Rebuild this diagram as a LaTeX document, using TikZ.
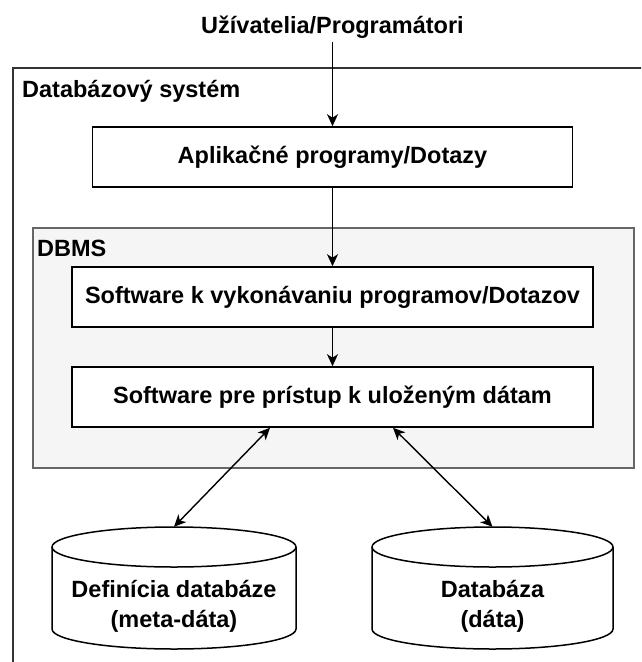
\documentclass[tikz,border=0pt]{standalone}
\usepackage{fontspec}
\setmainfont{Liberation Sans}
\usetikzlibrary{arrows.meta,calc}
\definecolor{dbfill}{HTML}{F5F5F5}
\definecolor{dbline}{HTML}{666666}
\definecolor{sysline}{HTML}{333333}
\begin{document}
\begin{tikzpicture}[x=1pt,y=-1pt,
  txt/.style={font=\fontsize{23.5}{30}\selectfont\bfseries, inner sep=0pt},
  box/.style={draw=black, line width=1.6pt, fill=white, minimum height=60pt, inner sep=0pt, txt},
  tip/.tip={Stealth[length=12pt,width=11pt,inset=3.5pt]},
  arr/.style={line width=1.6pt, -tip},
  darr/.style={line width=1.4pt, tip-tip},
  cyl/.style={draw=black, line width=1.5pt, fill=white}]
\useasboundingbox (0,0) rectangle (641,662);
\clip (0,0) rectangle (641,662);
\fill[white] (0,0) rectangle (641,662);
% outer system box
\node[draw=sysline, line width=1.8pt, minimum width=660, minimum height=620, anchor=north west, inner sep=0pt] (sys) at (12,67) {};
\node[txt, anchor=base west] (systitle) at (22,97) {Databázový systém};
\node[txt, anchor=base] (users) at (332.5,33) {Užívatelia/Programátori};
\node[box, minimum width=480] (app) at (332.5,157) {Aplikačné programy/Dotazy};
% DBMS
\node[draw=dbline, fill=dbfill, line width=1.5pt, minimum width=601, minimum height=240, anchor=north west, inner sep=0pt] (dbms) at (32,227) {};
\node[txt, anchor=base west] (dbmslabel) at (37,256.5) {DBMS};
\node[box, minimum width=521] (exec) at (332.5,297) {Software k vykonávaniu programov/Dotazov};
\node[box, minimum width=521] (access) at (332.5,397) {Software pre prístup k uloženým dátam};
% cylinders
\node[minimum width=244, minimum height=122, inner sep=0pt] (cylL) at (174,588) {};
\node[minimum width=241, minimum height=122, inner sep=0pt] (cylR) at (492.5,588) {};
\draw[cyl] (52,547) -- (52,629) arc[start angle=180, end angle=360, x radius=122pt, y radius=20pt]
  -- (296,547) arc[start angle=0, end angle=180, x radius=122pt, y radius=20pt] -- cycle;
\draw[cyl] (52,547) arc[start angle=180, end angle=360, x radius=122pt, y radius=20pt];
\draw[cyl] (372,547) -- (372,629) arc[start angle=180, end angle=360, x radius=120.5pt, y radius=20pt]
  -- (613,547) arc[start angle=0, end angle=180, x radius=120.5pt, y radius=20pt] -- cycle;
\draw[cyl] (372,547) arc[start angle=180, end angle=360, x radius=120.5pt, y radius=20pt];
\node[txt, align=center] (cylLtext) at (174,606) {Definícia databáze\\(meta-dáta)};
\node[txt, align=center] (cylRtext) at (492.5,606) {Databáza\\(dáta)};
% connectors
\draw[arr, shorten <=4pt] (users.south) -- (app.north);
\draw[arr] (app.south) -- (exec.north);
\draw[arr] (exec.south) -- (access.north);
\draw[darr] ($(access.south)+(-62.5,0)$) -- (cylL.north);
\draw[darr] ($(access.south)+(60.5,0)$) -- (cylR.north);
\end{tikzpicture}
\end{document}
